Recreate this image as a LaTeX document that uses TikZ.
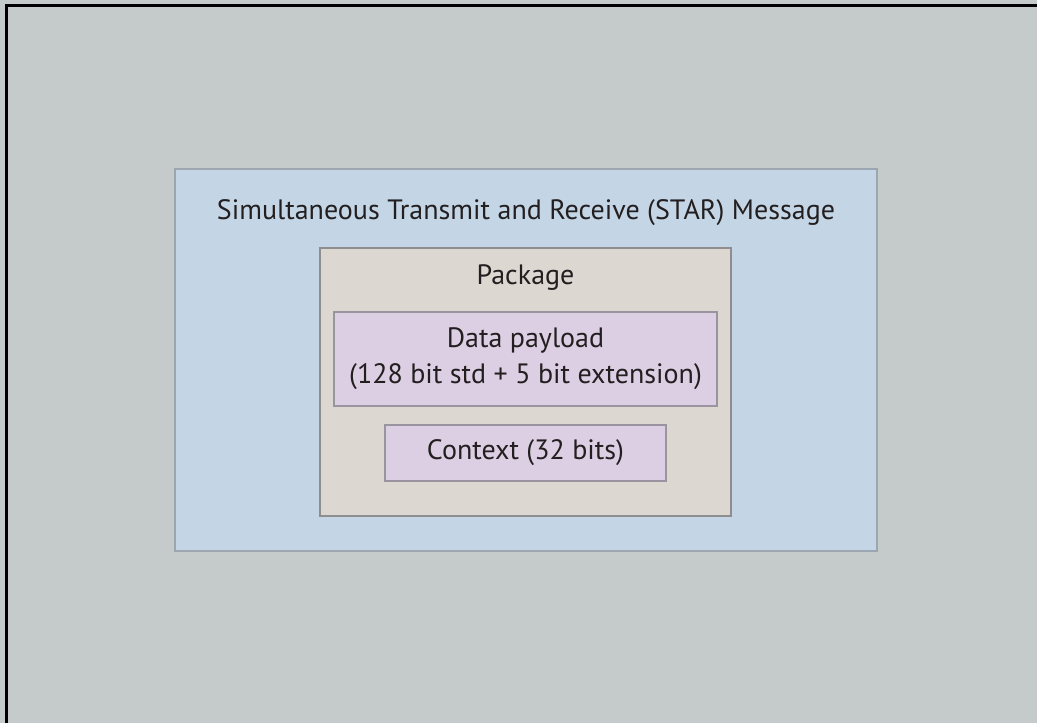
\documentclass[tikz,border=0pt]{standalone}
\usepackage{fontspec}
\setmainfont{PT Sans}
\definecolor{bgc}{HTML}{C5CBCA}
\definecolor{bluec}{HTML}{C4D6E6}
\definecolor{bluebd}{HTML}{9CA6B0}
\definecolor{pkgc}{HTML}{DCD7D0}
\definecolor{pkgbd}{HTML}{8E8E90}
\definecolor{purc}{HTML}{DCCFE3}
\definecolor{purbd}{HTML}{9A94A0}
\definecolor{txt}{HTML}{231F20}
\begin{document}
\begin{tikzpicture}[x=1pt,y=1pt,
  boxbase/.style={inner sep=0pt, outer sep=0pt, line width=1.2pt},
  lbl/.style={text=txt, font=\fontsize{28}{36}\selectfont, align=center, inner sep=0pt}]
\useasboundingbox (0,0) rectangle (1037,723);
\fill[bgc] (0,0) rectangle (1037,723);
\draw[black, line width=3pt] (6,0) -- (6,717) -- (1037,717);
% STAR message box
\node[boxbase, draw=bluebd, fill=bluec, minimum width=702pt, minimum height=382pt, anchor=north west] (star) at (175,554) {};
\node[lbl, anchor=base] (startitle) at (526,503) {Simultaneous Transmit and Receive (STAR) Message};
% Package box
\node[boxbase, draw=pkgbd, fill=pkgc, minimum width=411pt, minimum height=268pt, anchor=north west] (pkg) at (320,475) {};
\node[lbl, anchor=base] (pkgtitle) at (525.5,438) {Package};
% Data payload
\node[boxbase, draw=purbd, fill=purc, minimum width=383pt, minimum height=94pt, anchor=north west] (data) at (334,411) {};
\node[lbl] (datatext) at (data.center) {Data payload\\(128 bit std + 5 bit extension)};
% Context
\node[boxbase, draw=purbd, fill=purc, minimum width=281pt, minimum height=56pt, anchor=north west] (ctx) at (385,298) {};
\node[lbl] (ctxtext) at (ctx.center) {Context (32 bits)};
\end{tikzpicture}
\end{document}
